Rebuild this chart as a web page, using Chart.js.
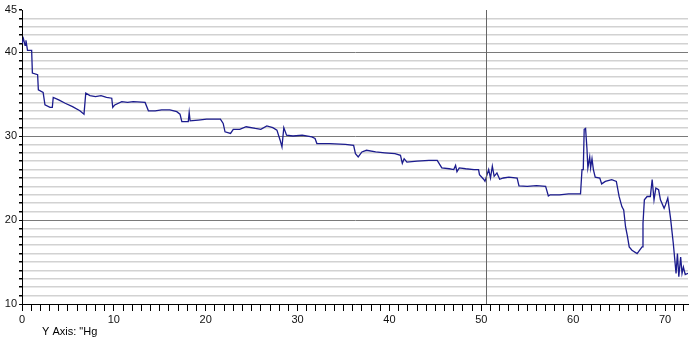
<!DOCTYPE html>
<html>
<head>
<meta charset="utf-8">
<script src="https://cdn.jsdelivr.net/npm/chart.js@4.4.0/dist/chart.umd.min.js"></script>
<style>
  html, body { margin: 0; padding: 0; background: #fff; }
  #wrap { position: relative; width: 690px; height: 343px; }
</style>
</head>
<body>
<div id="wrap"><canvas id="chart" width="690" height="343"></canvas></div>
<script>
// Elapsed time (hours) and pressure readings ("Hg)
const hours = [
    0.0, 0.15, 0.33, 0.43, 0.6, 1.05, 1.13, 1.7, 1.78, 2.3, 2.5, 3.05, 3.3, 3.4, 4.0, 4.7, 5.5, 6.3, 6.75, 6.94,
    7.4, 8.0, 8.6, 9.2, 9.77, 9.88, 10.1, 10.86, 11.5, 12.1, 13.4, 13.76, 14.5, 15.2, 16.1, 16.85, 17.2, 17.4, 18.1, 18.2,
    18.3, 19.2, 20.1, 21.6, 21.9, 22.1, 22.7, 23.0, 23.7, 24.4, 25.4, 26.0, 26.65, 27.3, 27.75, 28.1, 28.3, 28.5, 28.8, 29.5,
    30.5, 31.55, 31.9, 32.1, 33.5, 35.2, 36.1, 36.3, 36.6, 37.0, 37.5, 38.5, 39.5, 40.6, 41.2, 41.4, 41.6, 41.9, 43.0, 44.3,
    45.2, 45.7, 46.5, 47.0, 47.2, 47.35, 47.6, 48.3, 49.2, 49.7, 49.8, 50.25, 50.4, 50.8, 51.0, 51.2, 51.4, 51.7, 52.0, 52.4,
    53.0, 53.9, 54.1, 55.0, 56.0, 57.0, 57.3, 57.5, 58.5, 59.5, 60.8, 60.96, 61.1, 61.2, 61.35, 61.5, 61.6, 61.8, 61.9, 62.05,
    62.2, 62.4, 62.9, 63.1, 63.5, 64.2, 64.7, 65.0, 65.3, 65.5, 65.7, 65.9, 66.1, 66.4, 66.96, 67.3, 67.5, 67.6, 67.75, 68.05,
    68.4, 68.6, 68.8, 69.0, 69.3, 69.5, 69.9, 70.05, 70.3, 70.6, 70.9, 71.2, 71.35, 71.5, 71.7, 71.85, 72.0, 72.2, 72.5
];
const pressure = [
    41.0, 41.6, 40.8, 41.4, 40.2, 40.2, 37.5, 37.3, 35.5, 35.2, 33.7, 33.4, 33.4, 34.6, 34.3, 33.9, 33.5, 33.0, 32.6, 35.1,
    34.8, 34.7, 34.8, 34.6, 34.5, 33.4, 33.7, 34.1, 34.0, 34.1, 34.0, 33.0, 33.0, 33.1, 33.1, 32.9, 32.6, 31.7, 31.7, 32.8,
    31.8, 31.9, 32.0, 32.0, 31.5, 30.5, 30.3, 30.8, 30.8, 31.1, 30.9, 30.8, 31.2, 31.0, 30.7, 29.5, 28.7, 31.0, 30.1, 30.0,
    30.1, 29.9, 29.7, 29.1, 29.1, 29.0, 28.9, 27.9, 27.5, 28.1, 28.3, 28.1, 28.0, 27.9, 27.7, 26.75, 27.3, 26.9, 27.0, 27.1,
    27.1, 26.2, 26.1, 26.0, 26.5, 25.75, 26.2, 26.1, 26.0, 26.0, 25.4, 24.85, 24.6, 26.0, 25.0, 26.4, 25.2, 25.6, 24.85, 25.0,
    25.1, 25.0, 24.05, 24.0, 24.1, 24.0, 22.86, 23.0, 23.0, 23.1, 23.1, 26.0, 26.0, 30.8, 30.9, 28.5, 26.2, 27.5, 26.2, 27.3,
    26.0, 25.1, 25.0, 24.3, 24.6, 24.8, 24.6, 22.8, 21.6, 21.2, 19.2, 18.1, 16.8, 16.4, 16.0, 16.5, 16.8, 19.6, 22.4, 22.8,
    22.8, 24.8, 22.4, 23.8, 23.6, 22.4, 21.4, 21.8, 22.6, 20.2, 17.2, 13.65, 16.0, 13.25, 15.6, 13.65, 14.4, 13.5, 13.65
];
const yLabels = [10, 20, 30, 40, 45];
const cursorHour = 50.5;
const axisCaption = 'Y Axis: "Hg';

const FONT = { family: '"Liberation Sans", Arial, sans-serif', size: 11 };

// Vertical cursor line and the caption under the axis
const overlayPlugin = {
    id: 'overlay',
    afterDatasetsDraw(chart) {
        const { ctx, chartArea, scales } = chart;
        const x = Math.round(scales.x.getPixelForValue(cursorHour)) + 0.5;
        ctx.save();
        ctx.strokeStyle = '#666';
        ctx.lineWidth = 1;
        ctx.beginPath();
        ctx.moveTo(x, chartArea.top);
        ctx.lineTo(x, chartArea.bottom);
        ctx.stroke();
        ctx.restore();
    },
    afterDraw(chart) {
        const { ctx } = chart;
        ctx.save();
        ctx.fillStyle = '#000';
        ctx.font = `${FONT.size}px ${FONT.family}`;
        ctx.textBaseline = 'alphabetic';
        ctx.fillText(axisCaption, 42, 335);
        ctx.restore();
    }
};

new Chart(document.getElementById('chart'), {
    type: 'line',
    data: {
        datasets: [{
            data: hours.map((h, i) => ({ x: h, y: pressure[i] })),
            borderColor: '#1c1c8e',
            borderWidth: 1.3,
            pointRadius: 0,
            tension: 0,
            fill: false
        }]
    },
    options: {
        responsive: false,
        animation: false,
        layout: { padding: { top: 10, right: 2, left: 0, bottom: 0 } },
        plugins: {
            legend: { display: false },
            tooltip: { enabled: false }
        },
        scales: {
            x: {
                type: 'linear',
                min: 0,
                max: 72.5,
                afterFit: s => { s.height = 39; },
                border: { color: '#000', width: 1 },
                grid: {
                    drawOnChartArea: false,
                    drawTicks: true,
                    tickLength: 7,
                    tickColor: '#000'
                },
                ticks: {
                    stepSize: 1,
                    autoSkip: false,
                    includeBounds: false,
                    maxRotation: 0,
                    padding: 2,
                    color: '#111',
                    font: FONT,
                    callback: v => (v % 10 === 0 ? String(v) : '')
                }
            },
            y: {
                min: 10,
                max: 45,
                afterFit: s => { s.width = 22; },
                border: { color: '#000', width: 1 },
                grid: {
                    color: c => {
                        const v = c.tick.value;
                        if (v === 45) return 'rgba(0,0,0,0)';
                        return v % 10 === 0 ? '#7a7a7a' : '#d2d2d2';
                    },
                    lineWidth: c => (c.tick.value % 10 === 0 ? 1 : 1.5),
                    tickLength: 3,
                    tickColor: '#000'
                },
                ticks: {
                    stepSize: 1,
                    autoSkip: false,
                    padding: 2,
                    color: '#111',
                    font: FONT,
                    callback: v => (yLabels.includes(v) ? String(v) : '')
                }
            }
        }
    },
    plugins: [overlayPlugin]
});
</script>
</body>
</html>
